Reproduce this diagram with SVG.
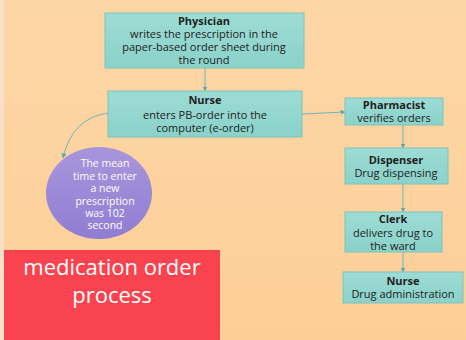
<svg xmlns="http://www.w3.org/2000/svg" width="466" height="340" viewBox="0 0 466 340">
<style>
.box{fill:url(#teal);stroke:#7cc4bd;stroke-width:1}
.t{font-family:"Open Sans",Lato,"Liberation Sans",sans-serif;font-size:11px;fill:#222;text-anchor:middle}
.b{font-weight:bold}
.w{font-family:"Open Sans",Lato,"Liberation Sans",sans-serif;font-size:10.5px;fill:#fff;text-anchor:middle}
.big{font-family:"Open Sans",Lato,"Liberation Sans",sans-serif;font-size:22px;fill:#fff;text-anchor:middle}
.c{fill:none;stroke:#6fb8b6;stroke-width:1}
</style>
<defs>
<linearGradient id="teal" x1="0" y1="0" x2="0" y2="1"><stop offset="0" stop-color="#9ddcd5"/><stop offset="1" stop-color="#8ad2ca"/></linearGradient>
<linearGradient id="bg" x1="0" y1="0" x2="0" y2="1"><stop offset="0" stop-color="#fdd6a6"/><stop offset="1" stop-color="#fdcf98"/></linearGradient>
<linearGradient id="purp" x1="0" y1="0" x2="0" y2="1"><stop offset="0" stop-color="#a896dc"/><stop offset="1" stop-color="#907dd2"/></linearGradient>
<marker id="ah" markerWidth="5" markerHeight="5" refX="4.5" refY="2.5" orient="auto" markerUnits="userSpaceOnUse"><path d="M0,0 L5,2.5 L0,5 Z" fill="#5aa9b0"/></marker>
</defs>
<rect width="466" height="340" fill="url(#bg)"/>
<rect x="0" y="0" width="4" height="340" fill="#f6e0c6"/>
<g id="connectors">
<path class="c" d="M205,68 L205,91" marker-end="url(#ah)"/>
<path class="c" d="M302,114 L345,112" marker-end="url(#ah)"/>
<path class="c" d="M108,113 Q72,118 63,158" marker-end="url(#ah)"/>
<path class="c" d="M403,125 L403,148" marker-end="url(#ah)"/>
<path class="c" d="M403,184 L403,212" marker-end="url(#ah)"/>
<path class="c" d="M403,252 L403,272" marker-end="url(#ah)"/>
</g>
<g id="physician">
<rect class="box" x="105" y="13" width="199" height="55"/>
<text class="t b" x="204" y="25">Physician</text>
<text class="t" x="204" y="38">writes the prescription in the</text>
<text class="t" x="204" y="51">paper-based order sheet during</text>
<text class="t" x="204" y="64">the round</text>
</g>
<g id="nurse1">
<rect class="box" x="108" y="91" width="194" height="46"/>
<text class="t b" x="205" y="104">Nurse</text>
<text class="t" x="205" y="119">enters PB-order into the</text>
<text class="t" x="205" y="132">computer (e-order)</text>
</g>
<g id="pharmacist">
<rect class="box" x="345" y="98" width="98" height="27"/>
<text class="t b" x="394" y="109">Pharmacist</text>
<text class="t" x="394" y="122">verifies orders</text>
</g>
<g id="dispenser">
<rect class="box" x="345" y="148" width="103" height="36"/>
<text class="t b" x="396" y="164">Dispenser</text>
<text class="t" x="396" y="177">Drug dispensing</text>
</g>
<g id="clerk">
<rect class="box" x="345" y="212" width="97" height="40"/>
<text class="t b" x="393" y="223">Clerk</text>
<text class="t" x="393" y="237">delivers drug to</text>
<text class="t" x="393" y="250">the ward</text>
</g>
<g id="nurse2">
<rect class="box" x="343" y="272" width="120" height="31"/>
<text class="t b" x="403" y="285">Nurse</text>
<text class="t" x="403" y="298">Drug administration</text>
</g>
<g id="note">
<ellipse cx="99" cy="193" rx="53" ry="46" fill="url(#purp)"/>
<text class="w" x="105" y="167">The mean</text>
<text class="w" x="105" y="180">time to enter</text>
<text class="w" x="105" y="192">a new</text>
<text class="w" x="105" y="205">prescription</text>
<text class="w" x="105" y="217">was 102</text>
<text class="w" x="105" y="229">second</text>
</g>
<g id="title">
<rect x="4" y="250" width="216" height="90" fill="#f9434f"/>
<text class="big" x="112" y="275">medication order</text>
<text class="big" x="112" y="303">process</text>
</g>
</svg>
